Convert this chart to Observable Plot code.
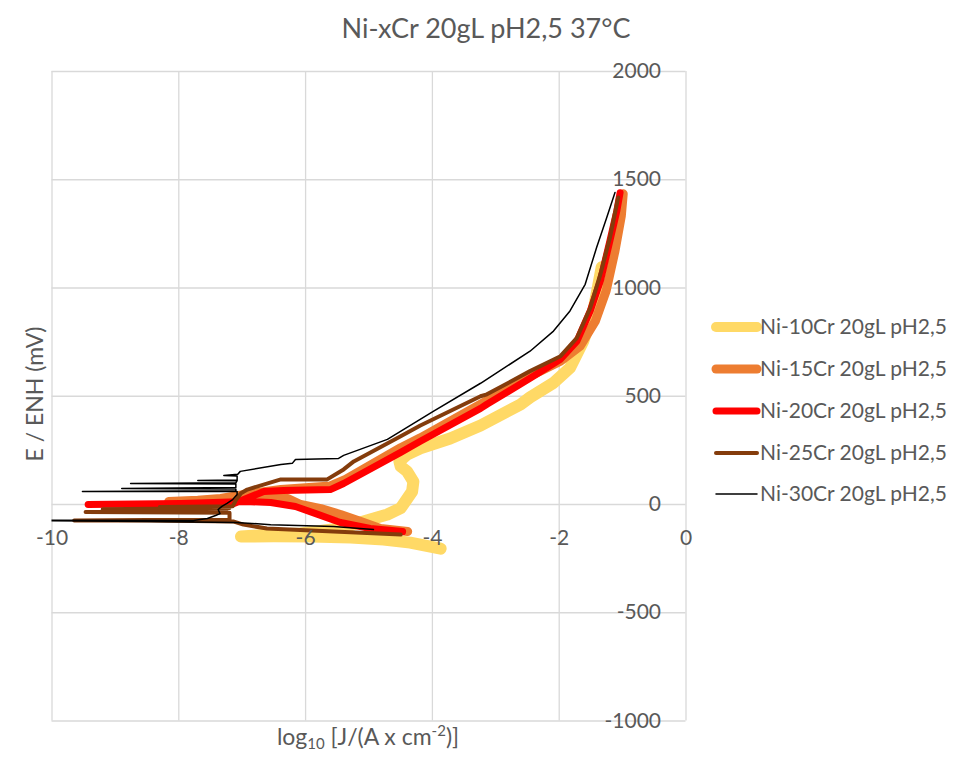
<!DOCTYPE html>
<html><head><meta charset="utf-8">
<script src="https://cdn.jsdelivr.net/npm/d3@7"></script>
<script src="https://cdn.jsdelivr.net/npm/@observablehq/plot@0.6"></script>
<style>
body{margin:0;background:#fff;}
#chart{position:relative;width:975px;height:757px;}
</style></head><body><div id="chart"></div>
<script>
const chartTitle = "Ni-xCr 20gL pH2,5 37°C";
const yTitle = "E / ENH (mV)";
const seriesNames = ["Ni-10Cr 20gL pH2,5","Ni-15Cr 20gL pH2,5","Ni-20Cr 20gL pH2,5","Ni-25Cr 20gL pH2,5","Ni-30Cr 20gL pH2,5"];
const seriesColors = ["#FFD966","#ED7D31","#FF0000","#843C0C","#000000"];
const seriesWidths = [12, 9, 7, 4, 1.5];
const xTicks = [-10,-8,-6,-4,-2,0];
const yTicks = [-1000,-500,0,500,1000,1500,2000];

const ni10_logJ = [-3.87,-4.35,-4.77,-5.29,-5.92,-6.5,-7.02,-6.6,-6.08,-5.45,-5.10,-4.71,-4.50,-4.32,-4.30,-4.40,-4.50,-4.52,-4.40,-4.19,-3.72,-3.24,-2.61,-2.46,-2.09,-1.83,-1.62,-1.46,-1.33];
const ni10_E    = [-204,-176,-162,-153,-148,-147,-148,-140,-134,-111,-79,-46,-17,60,106,153,176,199,231,260,305,365,462,495,562,631,755,894,1096];

const ni15_logJ = [-4.39,-4.82,-5.13,-5.45,-5.76,-6.08,-6.28,-6.55,-7.02,-7.65,-8.16,-7.7,-7.34,-6.87,-6.39,-5.61,-5.37,-4.50,-4.19,-3.24,-2.46,-1.98,-1.67,-1.43,-1.26,-1.12,-1.02,-0.99];
const ni15_E    = [-125,-111,-79,-46,-19,0,28,32,23,18,14,20,28,51,69,86,116,262,308,463,593,662,731,847,986,1171,1333,1435];

const ni20_logJ = [-4.47,-4.98,-5.45,-5.84,-6.16,-6.55,-6.94,-7.97,-9.43,-8.2,-7.13,-6.66,-6.35,-5.61,-5.40,-4.50,-4.19,-3.24,-3.14,-2.46,-1.98,-1.72,-1.51,-1.35,-1.20,-1.09,-1.04];
const ni20_E    = [-125,-111,-83,-42,-9,9,14,5,0,3,5,60,65,69,97,241,292,444,463,583,671,755,894,1033,1218,1357,1440];

const ni25_logJ = [-4.50,-5.56,-6.61,-6.98,-7.13,-8.44,-9.65,-8.5,-7.2,-7.2,-9.47,-7.25,-9.2,-7.2,-8.3,-7.15,-7.1,-7.02,-6.92,-6.39,-5.66,-5.40,-5.24,-4.50,-4.19,-3.24,-3.14,-2.46,-1.98,-1.72,-1.51,-1.35,-1.20,-1.07];
const ni25_E    = [-139,-125,-111,-93,-79,-74,-74,-72,-70,-38,-35,-28,-22,-16,-12,-8,20,52,69,116,116,162,199,315,365,500,509,616,685,770,909,1064,1233,1418];

const ni30_logJ = [-4.93,-5.56,-6.55,-7.1,-8.5,-10.3,-10.3,-7.77,-7.55,-7.42,-7.35,-7.38,-7.32,-7.24,-7.15,-7.08,-7.08,-9.52,-7.1,-7.1,-8.9,-7.1,-7.1,-8.76,-7.1,-7.08,-7.70,-7.08,-7.08,-7.29,-7.07,-7.03,-6.39,-6.21,-6.16,-5.48,-5.40,-4.71,-3.98,-3.24,-2.46,-2.09,-1.83,-1.59,-1.41,-1.25,-1.12];
const ni30_E    = [-116,-102,-93,-83,-79,-74,-72,-74,-65,-51,-42,-23,-9,5,23,46,60,60,63,72,74,78,95,97,100,110,111,113,132,134,140,153,185,190,208,213,227,301,431,560,708,801,894,1017,1187,1326,1441];

const seriesData = [[ni10_logJ,ni10_E],[ni15_logJ,ni15_E],[ni20_logJ,ni20_E],[ni25_logJ,ni25_E],[ni30_logJ,ni30_E]];

const W = 975, H = 757;
const font = "Lato, 'Open Sans', sans-serif";
const txt = "#595959";
const grid = "#d9d9d9";

const lineMarks = seriesData.map(([xs, ys], i) =>
  Plot.line(xs.map((x, j) => ({x, y: ys[j]})), {
    x: "x", y: "y", stroke: seriesColors[i], strokeWidth: seriesWidths[i],
    strokeLinecap: "round", strokeLinejoin: "round", clip: true
  })
);

const plot = Plot.plot({
  width: W, height: H,
  marginLeft: 51.5, marginRight: W - 685.5, marginTop: 71, marginBottom: H - 720.5,
  style: {fontFamily: font, background: "#fff", overflow: "visible"},
  x: {domain: [-10, 0], axis: null},
  y: {domain: [-1000, 2000], axis: null},
  marks: [
    Plot.gridX(xTicks, {stroke: grid, strokeOpacity: 1, strokeWidth: 1.3}),
    Plot.gridY(yTicks, {stroke: grid, strokeOpacity: 1, strokeWidth: 1.3}),
    ...lineMarks,
    Plot.text(xTicks, {x: d => d, y: 0, dy: 34, text: d => String(d), fill: txt, fontSize: 21}),
    Plot.text(yTicks, {x: 0, y: d => d, dx: -25, textAnchor: "end", text: d => String(d), fill: txt, fontSize: 21})
  ]
});
document.getElementById("chart").appendChild(plot);

const svg = d3.select(plot);
svg.append("text").attr("x", 486).attr("y", 38).attr("text-anchor", "middle")
  .attr("font-family", font).attr("font-size", 27).attr("fill", txt).text(chartTitle);

svg.append("text").attr("transform", "translate(43,394) rotate(-90)").attr("text-anchor", "middle")
  .attr("font-family", font).attr("font-size", 23).attr("fill", txt).text(yTitle);

const xt = svg.append("text").attr("x", 368).attr("y", 745).attr("text-anchor", "middle")
  .attr("font-family", font).attr("font-size", 23).attr("fill", txt);
xt.append("tspan").text("log");
xt.append("tspan").attr("font-size", 15).attr("dy", 4).text("10");
xt.append("tspan").attr("dy", -4).text(" [J/(A x cm");
xt.append("tspan").attr("font-size", 15).attr("dy", -9).text("-2");
xt.append("tspan").attr("dy", 9).text(")]");

const legendY = [327, 369, 411, 453, 494];
seriesNames.forEach((name, i) => {
  const g = svg.append("g");
  g.append("line").attr("x1", 716).attr("x2", 757).attr("y1", legendY[i]).attr("y2", legendY[i])
    .attr("stroke", seriesColors[i]).attr("stroke-width", Math.min(seriesWidths[i], 10)).attr("stroke-linecap", "round");
  g.append("text").attr("x", 760).attr("y", legendY[i]).attr("dy", "0.35em").attr("text-anchor", "start")
    .attr("font-family", font).attr("font-size", 21).attr("fill", txt).text(name);
});
</script></body></html>
